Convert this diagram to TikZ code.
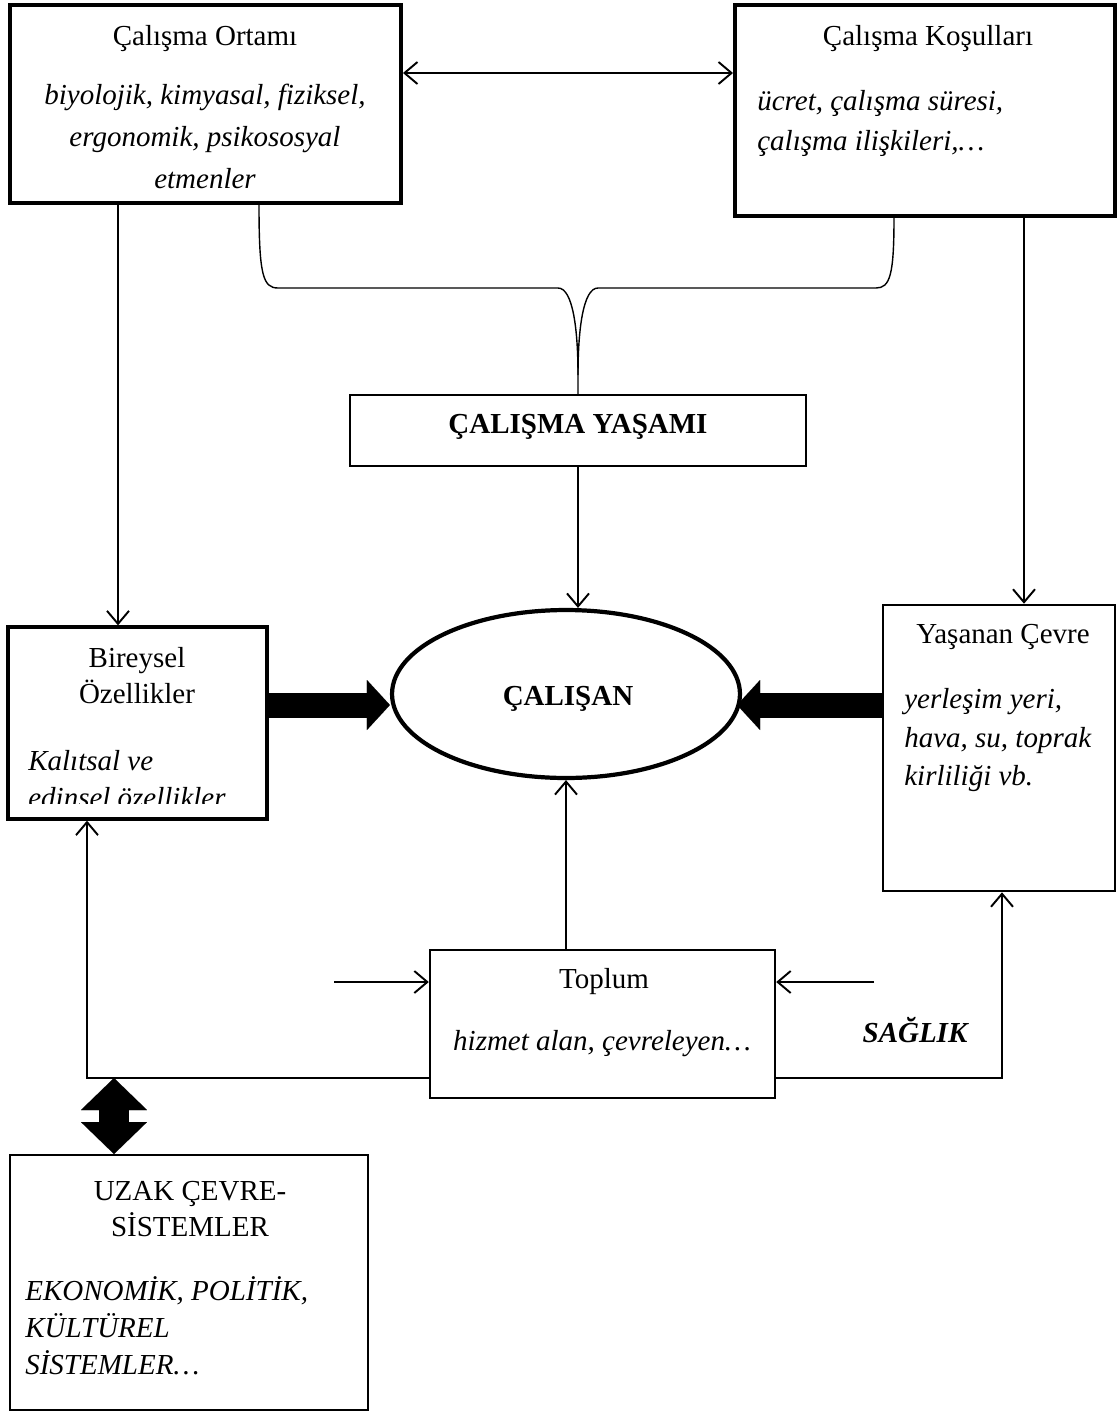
\documentclass[tikz,border=0pt]{standalone}
\usepackage{fontspec}
\setmainfont{Liberation Serif}
\usetikzlibrary{arrows.meta,shapes.geometric}

\begin{document}
\begin{tikzpicture}[x=0.02cm,y=-0.02cm,
  every node/.style={inner sep=0pt,font=\fontsize{16.5}{20}\selectfont},
  box/.style={draw,rectangle,line width=#1},
  txt/.style={anchor=base},
  itx/.style={anchor=base west,font=\fontsize{16.5}{20}\selectfont\itshape},
  arr/.style={line width=1.1pt,-{Straight Barb[length=0.26cm,width=0.44cm]}},
  arrs/.style={line width=1.1pt,{Straight Barb[length=0.26cm,width=0.44cm]}-{Straight Barb[length=0.26cm,width=0.44cm]}},
  blk/.style={line width=0.5cm,-{Triangle[length=0.46cm 0,width=1cm 0,line width=0.01pt]}},
  dblk/.style={line width=0.62cm,{Triangle[length=0.64cm 0,width=1.32cm 0,line width=0.01pt]}-{Triangle[length=0.64cm 0,width=1.32cm 0,line width=0.01pt]}},
  bracel/.style={line width=0.8pt}]
\useasboundingbox (0,0) rectangle (1118,1414);
%
\node[box=2.3pt,minimum width=7.82cm,minimum height=3.96cm] (ortam) at (205.5,104) {};
\node[box=2.3pt,minimum width=7.6cm,minimum height=4.22cm] (kosul) at (925,110.5) {};
\node[box=0.7pt,minimum width=9.12cm,minimum height=1.42cm] (yasam) at (578,430.5) {};
\node[draw,ellipse,line width=2.4pt,minimum width=6.96cm,minimum height=3.36cm] (calisan) at (566,694) {};
\node[box=1.9pt,minimum width=5.18cm,minimum height=3.84cm] (bireysel) at (137.5,723) {};
\node[box=1.5pt,minimum width=4.64cm,minimum height=5.72cm] (yasanan) at (999,748) {};
\node[box=1.4pt,minimum width=6.9cm,minimum height=2.96cm] (toplum) at (602.5,1024) {};
\node[box=1.1pt,minimum width=7.16cm,minimum height=5.1cm] (uzak) at (189,1282.5) {};
%
\node[txt] (ortamT) at (205,45) {Çalışma Ortamı};
\node[txt,font=\fontsize{16.5}{20}\selectfont\itshape] (ortam1) at (205,104) {biyolojik, kimyasal, fiziksel,};
\node[txt,font=\fontsize{16.5}{20}\selectfont\itshape] (ortam2) at (205,146) {ergonomik, psikososyal};
\node[txt,font=\fontsize{16.5}{20}\selectfont\itshape] (ortam3) at (205,188) {etmenler};
\node[txt] (kosulT) at (928,45) {Çalışma Koşulları};
\node[itx] (kosul1) at (757,110) {ücret, çalışma süresi,};
\node[itx] (kosul2) at (757,150) {çalışma ilişkileri,…};
\node[txt,font=\fontsize{16.5}{20}\selectfont\bfseries] (yasamT) at (578,433) {ÇALIŞMA YAŞAMI};
\node[txt,font=\fontsize{16.5}{20}\selectfont\bfseries] (calisanT) at (568,705) {ÇALIŞAN};
\node[txt] (bireyselT) at (137,667) {Bireysel};
\node[txt] (bireyselT2) at (137,703) {Özellikler};
\node[itx] (bireysel1) at (28,770) {Kalıtsal ve};
\begin{scope}
\clip (0,780) rectangle (300,803);
\node[itx] (bireysel2) at (28,807) {edinsel özellikler};
\end{scope}
\node[txt] (yasananT) at (1003,643) {Yaşanan Çevre};
\node[itx] (yasanan1) at (904,708) {yerleşim yeri,};
\node[itx] (yasanan2) at (904,747) {hava, su, toprak};
\node[itx] (yasanan3) at (904,785) {kirliliği vb.};
\node[txt] (toplumT) at (604,988) {Toplum};
\node[txt,font=\fontsize{16.5}{20}\selectfont\itshape] (toplum1) at (602,1050) {hizmet alan, çevreleyen…};
\node[txt,font=\fontsize{16.5}{20}\selectfont\bfseries\itshape] (saglik) at (915,1042) {SAĞLIK};
\node[txt] (uzakT) at (190,1200) {UZAK ÇEVRE-};
\node[txt] (uzakT2) at (190,1236) {SİSTEMLER};
\node[itx] (uzak1) at (25,1300) {EKONOMİK, POLİTİK,};
\node[itx] (uzak2) at (25,1337) {KÜLTÜREL};
\node[itx] (uzak3) at (25,1374) {SİSTEMLER…};
%
\coordinate (hy) at (0,73);
\coordinate (vl) at (118,0);
\coordinate (vr) at (1024,0);
\coordinate (bl) at (259,0);
\coordinate (br) at (894,0);
\coordinate (my) at (0,705);
\coordinate (rt) at ([xshift=-0.1cm]calisan.east);
\coordinate (inL) at (334,982);
\coordinate (inR) at (874,982);
\coordinate (by) at (0,1078);
\coordinate (bx) at (87,0);
\coordinate (sx) at (1002,0);
\coordinate (dx) at (114,0);
%
\draw[arrs] (ortam.east |- hy) -- (kosul.west |- hy);
\draw[bracel] (ortam.south -| bl) .. controls (259,275) and (263,288) .. (278,288) -- (558,288) .. controls (573,288) and (578,330) .. (578,375) -- (yasam.north);
\draw[bracel] (kosul.south -| br) .. controls (894,275) and (890,288) .. (876,288) -- (598,288) .. controls (583,288) and (578,330) .. (578,375);
\draw[arr] (ortam.south -| vl) -- (bireysel.north -| vl);
\draw[arr] (kosul.south -| vr) -- (yasanan.north -| vr);
\draw[arr] (yasam.south) -- (calisan.north -| yasam.south);
\draw[arr] (calisan.south |- toplum.north) -- (calisan.south);
%
\draw[blk] (bireysel.east |- my) -- (calisan.west |- my);
\draw[blk] (yasanan.west |- my) -- (rt |- my);
%
\draw[arr] (inL) -- (toplum.west |- inL);
\draw[arr] (inR) -- (toplum.east |- inR);
\draw[arr] (toplum.west |- by) -| (bireysel.south -| bx);
\draw[arr] (toplum.east |- by) -| (yasanan.south -| sx);
\draw[dblk] (uzak.north -| dx) -- (dx |- by);
\end{tikzpicture}
\end{document}
